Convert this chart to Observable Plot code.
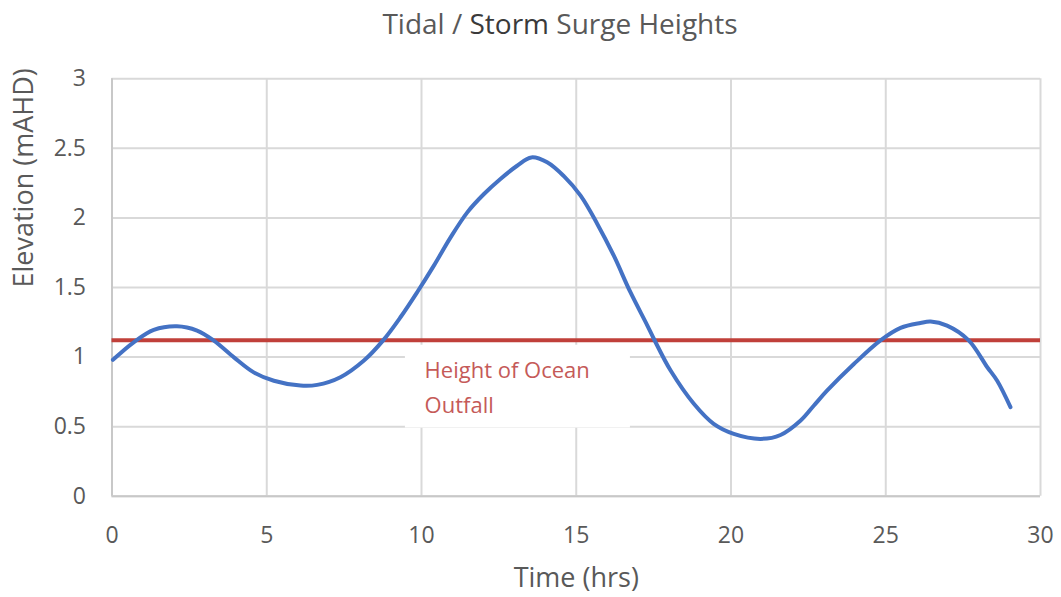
<!DOCTYPE html>
<html>
<head>
<meta charset="utf-8">
<script src="https://cdn.jsdelivr.net/npm/d3@7"></script>
<script src="https://cdn.jsdelivr.net/npm/@observablehq/plot@0.6"></script>
<style>
  html, body { margin: 0; padding: 0; background: #fff; }
  #title {
    height: 46px; line-height: 46px; width: 1061px;
    font-family: "Open Sans", sans-serif; font-size: 28px; color: #595959;
    text-align: center; padding-left: 59px; box-sizing: border-box;
  }
  #title .dark { color: #3a3a3a; }
  #chart svg { display: block; }
</style>
</head>
<body>
<div id="title">Tidal / <span class="dark">Storm</span> Surge Heights</div>
<div id="chart"></div>
<script>
// Time (hrs)
const hours = [0.03, 0.70, 1.35, 2.10, 2.75, 3.29, 3.94, 4.58, 5.23, 6.09, 6.63, 7.38, 8.14, 8.76, 9.32, 9.86,
  10.40, 10.94, 11.48, 12.01, 12.55, 13.09, 13.55, 14.06, 14.60, 15.14, 15.68, 16.21, 16.75, 17.29, 17.51,
  18.05, 18.80, 19.44, 20.09, 20.95, 21.60, 22.25, 22.68, 23.11, 23.97, 24.83, 25.48, 26.12, 26.45, 26.98,
  27.68, 28.28, 28.60, 29.03];
// Elevation (mAHD)
const elevation = [0.98, 1.106, 1.195, 1.221, 1.19, 1.118, 0.998, 0.89, 0.83, 0.795, 0.80, 0.855, 0.975, 1.12, 1.286, 1.466,
  1.657, 1.86, 2.04, 2.17, 2.28, 2.375, 2.435, 2.40, 2.30, 2.16, 1.957, 1.73, 1.466, 1.23, 1.13,
  0.903, 0.664, 0.52, 0.448, 0.412, 0.44, 0.544, 0.652, 0.76, 0.95, 1.12, 1.21, 1.245, 1.255, 1.226,
  1.12, 0.927, 0.83, 0.64];
// Height of ocean outfall (mAHD)
const outfallLevel = [1.12];
const outfallLabel = ["Height of Ocean\nOutfall"];
const xTicks = [0, 5, 10, 15, 20, 25, 30];
const yTicks = [0, 0.5, 1, 1.5, 2, 2.5, 3];

const data = hours.map((h, i) => ({h, e: elevation[i]}));

const chart = Plot.plot({
  width: 1061,
  height: 551,
  marginLeft: 111.5,
  marginRight: 21,
  marginTop: 32.3,
  marginBottom: 101.3,
  style: {fontFamily: "Open Sans, sans-serif", fontSize: "23px", color: "#595959", background: "white", overflow: "visible"},
  x: {domain: [0, 30]},
  y: {domain: [0, 3]},
  marks: [
    Plot.gridX(xTicks, {stroke: "#d9d9d9", strokeOpacity: 1, strokeWidth: 2}),
    Plot.gridY(yTicks, {stroke: "#d9d9d9", strokeOpacity: 1, strokeWidth: 2}),
    Plot.ruleX([0], {stroke: "#c8c8c8", strokeWidth: 2}),
    Plot.ruleY([0], {stroke: "#c8c8c8", strokeWidth: 2}),
    Plot.rect([0], {x1: 9.48, x2: 16.75, y1: 0.49, y2: 1.085, fill: "white"}),
    Plot.axisX(xTicks, {tickSize: 0, tickPadding: 30, fontSize: 23, fill: "#595959", label: null, tickFormat: d => String(d)}),
    Plot.axisY(yTicks, {tickSize: 0, tickPadding: 26, fontSize: 23, fill: "#595959", label: null, tickFormat: d => String(d)}),
    Plot.ruleY(outfallLevel, {x1: 0, x2: 30, stroke: "#c0403a", strokeWidth: 4}),
    Plot.line(data, {x: "h", y: "e", curve: "catmull-rom", stroke: "#4472c4", strokeWidth: 4}),
    Plot.text(outfallLabel, {x: 10.1, y: 0.806, text: d => d, textAnchor: "start", lineAnchor: "middle", lineHeight: 1.6, fontSize: 22, fill: "#c55a58"}),
    Plot.text(["Elevation (mAHD)"], {frameAnchor: "left", rotate: -90, dx: -87.5, lineAnchor: "middle", fontSize: 27, fill: "#595959"}),
    Plot.text(["Time (hrs)"], {frameAnchor: "bottom", dy: 82.3, lineAnchor: "middle", fontSize: 27, fill: "#595959"})
  ]
});
document.getElementById("chart").appendChild(chart);
</script>
</body>
</html>
